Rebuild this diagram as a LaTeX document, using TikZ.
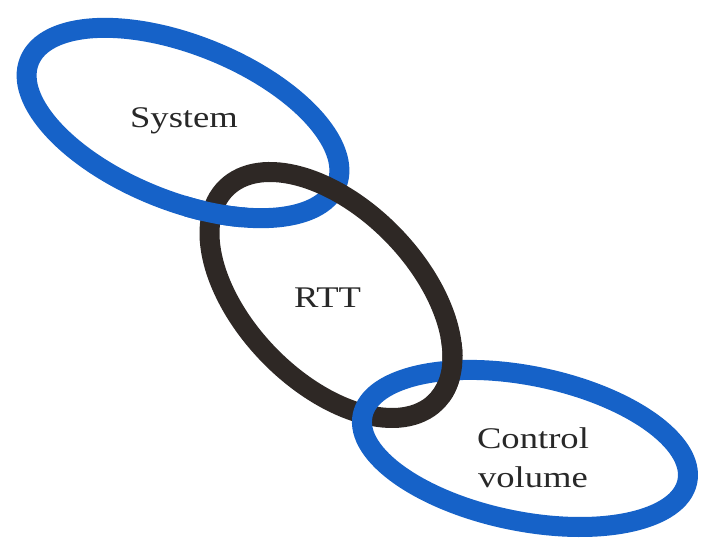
\documentclass[tikz,border=0pt]{standalone}
\usepackage{fontspec}
\setmainfont{Liberation Serif}
\usepackage{graphicx}
\definecolor{ringblue}{RGB}{22,98,200}
\definecolor{ringdark}{RGB}{46,40,37}
\definecolor{textgray}{RGB}{40,40,40}
\begin{document}
\begin{tikzpicture}[x=1pt,y=-1pt,
  ring/.style={line width=20pt},
  lbl/.style={font=\fontsize{30}{39}\selectfont, text=textgray, inner sep=0pt, anchor=base}]
\useasboundingbox (0,0) rectangle (702,540);
\fill[white] (0,0) rectangle (702,540);
\coordinate (sysc) at (183,123);
\coordinate (rttc) at (331,295);
\coordinate (cvc) at (525,448.5);
% System ring
\draw[ring, ringblue, rotate around={-22:(sysc)}] (sysc) ellipse [x radius=165.7pt, y radius=77.8pt];
% RTT ring
\draw[ring, ringdark, rotate around={-45.7:(rttc)}] (rttc) ellipse [x radius=149.8pt, y radius=86.3pt];
% System ring over RTT at left crossing
\begin{scope}
  \clip (215,208) circle [radius=32pt];
  \draw[ring, ringblue, rotate around={-22:(sysc)}] (sysc) ellipse [x radius=165.7pt, y radius=77.8pt];
\end{scope}
% Control volume ring
\draw[ring, ringblue, rotate around={-11.5:(cvc)}] (cvc) ellipse [x radius=165.7pt, y radius=72.7pt];
% RTT ring over CV at right crossing
\begin{scope}
  \clip (445,370) circle [radius=32pt];
  \draw[ring, ringdark, rotate around={-45.7:(rttc)}] (rttc) ellipse [x radius=149.8pt, y radius=86.3pt];
\end{scope}
% labels
\node[lbl] (sys) at (184,128) {\scalebox{1.22}[1]{System}};
\node[lbl] (rtt) at (327.5,308) {\scalebox{1.22}[1]{RTT}};
\node[lbl, align=center] (cv) at (533,487) {\scalebox{1.22}[1]{Control}\\\scalebox{1.22}[1]{volume}};
\end{tikzpicture}
\end{document}
